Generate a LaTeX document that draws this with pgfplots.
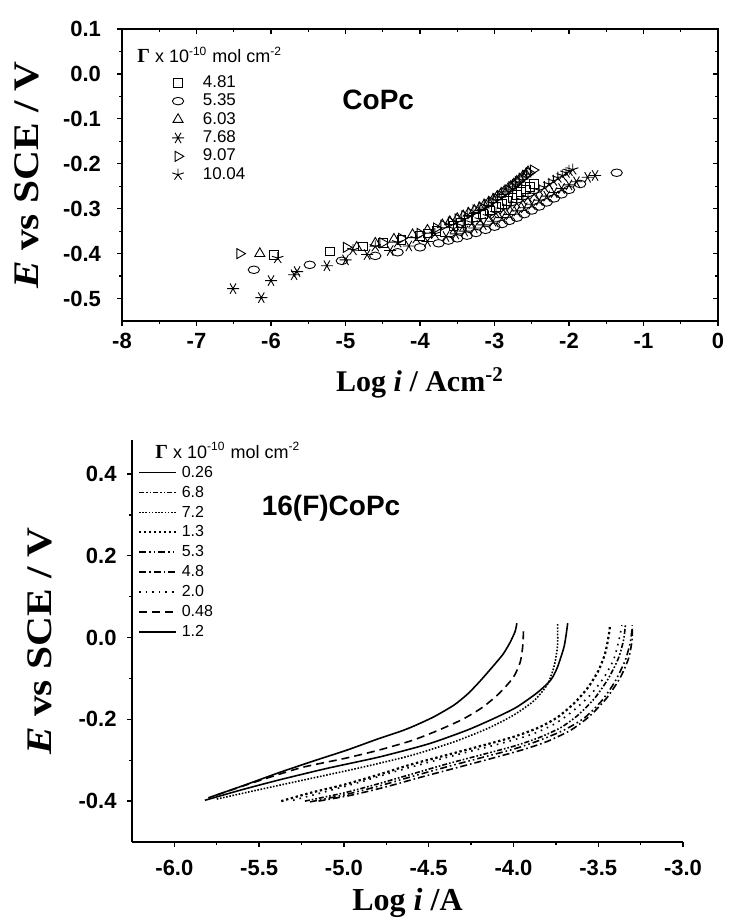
\documentclass[border=0pt]{standalone}
\usepackage{fontspec}
\setmainfont{Liberation Sans}
\newfontfamily\timesfont{Liberation Serif}
\usepackage{pgfplots}
\pgfplotsset{compat=1.18}

\tikzset{
  paneltext/.style={font=\bfseries\fontsize{14}{14}\selectfont, anchor=center},
  gammatitle/.style={anchor=west, inner sep=0pt, font=\fontsize{9}{9}\selectfont},
}

\begin{document}
\begin{tikzpicture}
\useasboundingbox (0pt,0pt) rectangle (368.5pt,461.5pt);

% ---------------- upper panel: CoPc ----------------
\begin{axis}[
  at={(61pt,301pt)}, anchor=south west,
  scale only axis, width=298pt, height=146pt,
  xmin=-8, xmax=0, ymin=-0.55, ymax=0.1,
  xtick={-8,-7,-6,-5,-4,-3,-2,-1,0},
  ytick={-0.5,-0.4,-0.3,-0.2,-0.1,0,0.1},
  minor x tick num=1, minor y tick num=1,
  tick align=outside, xtick pos=lower, ytick pos=left,
  major tick length=2.5pt, minor tick length=1.5pt,
  tick style={black, line width=0.6pt},
  axis line style={line width=0.8pt},
  /pgf/number format/assume math mode=true,
  ticklabel style={font=\bfseries\fontsize{11}{11}\selectfont},
  yticklabel style={xshift=-4.5pt, /pgf/number format/.cd, fixed, fixed zerofill, precision=1},
  xlabel={\timesfont\bfseries Log \textit{i} / Acm\textsuperscript{-2}},
  ylabel={\timesfont\bfseries\textit{E} vs SCE / V},
  xlabel style={at={(axis description cs:0.5,-0.212)}, anchor=center, font=\fontsize{15}{15}\selectfont},
  ylabel style={at={(axis description cs:-0.159,0.5)}, anchor=center, xscale=1.15, font=\fontsize{18}{18}\selectfont},
  legend cell align=left,
  legend image code/.code={%
    \path[draw=none, fill=none] (0pt,-3pt) rectangle (24pt,3pt);
    \draw[mark repeat=2,mark phase=2,#1] plot coordinates {(0pt,0pt)(12pt,0pt)(24pt,0pt)};},
  legend style={at={(axis cs:-7.57,0.0)}, anchor=north west, draw=none, fill=none,
    inner sep=0pt, outer sep=0pt, row sep=0.4pt,
    font=\fontsize{8.5}{8.5}\selectfont,
    nodes={inner sep=0.4pt, text height=6.3pt, text depth=1.7pt}},
  every axis plot/.append style={black, only marks, mark options={line width=0.45pt}},
]
% 4.81
\addplot[mark=square, mark size=2.2pt] coordinates {
(-5.96,-0.403) (-5.21,-0.395) (-4.77,-0.384) (-4.50,-0.377) (-4.25,-0.369)
(-4.00,-0.360) (-3.90,-0.355) (-3.78,-0.350) (-3.55,-0.338) (-3.45,-0.331)
(-3.35,-0.325) (-3.25,-0.318) (-3.15,-0.311) (-3.06,-0.304) (-2.98,-0.297)
(-2.90,-0.290) (-2.83,-0.283) (-2.76,-0.276) (-2.70,-0.270) (-2.64,-0.263)
(-2.58,-0.257) (-2.52,-0.251) (-2.47,-0.245)};
\addlegendentry{4.81}
% 5.35
\addplot[mark=o, mark size=2.1pt, mark options={xscale=1.35, yscale=0.9, line width=0.45pt}] coordinates {
(-6.23,-0.436) (-5.48,-0.425) (-5.05,-0.416) (-4.60,-0.405) (-4.30,-0.397)
(-4.00,-0.386) (-3.75,-0.377) (-3.62,-0.371) (-3.50,-0.366) (-3.37,-0.360)
(-3.25,-0.354) (-3.12,-0.347) (-3.00,-0.340) (-2.90,-0.334) (-2.80,-0.327)
(-2.70,-0.320) (-2.60,-0.312) (-2.50,-0.304) (-2.40,-0.295) (-2.30,-0.286)
(-2.20,-0.277) (-2.10,-0.268) (-2.00,-0.258) (-1.85,-0.245) (-1.36,-0.220)};
\addlegendentry{5.35}
% 6.03
\addplot[mark=triangle, mark size=2.9pt] coordinates {
(-6.15,-0.400) (-4.85,-0.386) (-4.60,-0.377) (-4.35,-0.368) (-4.10,-0.358)
(-3.90,-0.348) (-3.70,-0.336) (-3.60,-0.329) (-3.50,-0.322) (-3.42,-0.316)
(-3.35,-0.310) (-3.27,-0.304) (-3.20,-0.298) (-3.14,-0.292) (-3.08,-0.286)
(-3.02,-0.280) (-2.97,-0.274) (-2.92,-0.268) (-2.87,-0.262) (-2.82,-0.256)
(-2.78,-0.250) (-2.74,-0.245) (-2.70,-0.239) (-2.66,-0.234) (-2.62,-0.228)
(-2.58,-0.223) (-2.55,-0.218)};
\addlegendentry{6.03}
% 7.68
\addplot[mark=asterisk, mark size=3pt, mark options={rotate=90, line width=0.45pt}] coordinates {
(-6.51,-0.478) (-6.13,-0.498) (-6.00,-0.460) (-5.69,-0.447) (-5.65,-0.440)
(-5.25,-0.427) (-5.00,-0.414) (-4.71,-0.402) (-4.40,-0.393) (-4.15,-0.383)
(-3.90,-0.373) (-3.65,-0.362) (-3.52,-0.356) (-3.40,-0.350) (-3.27,-0.343)
(-3.15,-0.336) (-3.02,-0.328) (-2.90,-0.320) (-2.80,-0.313) (-2.70,-0.305)
(-2.60,-0.298) (-2.50,-0.290) (-2.40,-0.281) (-2.30,-0.272) (-2.20,-0.264)
(-2.10,-0.255) (-2.00,-0.247) (-1.90,-0.240) (-1.75,-0.230) (-1.65,-0.226)};
\addlegendentry{7.68}
% 9.07
\addplot[mark=triangle, mark size=2.9pt, mark options={rotate=-90, line width=0.45pt}] coordinates {
(-6.42,-0.400) (-4.99,-0.386) (-4.50,-0.376) (-4.25,-0.366) (-4.00,-0.355)
(-3.78,-0.343) (-3.68,-0.337) (-3.58,-0.330) (-3.49,-0.323) (-3.40,-0.316)
(-3.32,-0.310) (-3.25,-0.303) (-3.17,-0.297) (-3.10,-0.290) (-3.04,-0.284)
(-2.98,-0.277) (-2.92,-0.271) (-2.87,-0.264) (-2.82,-0.258) (-2.77,-0.251)
(-2.72,-0.246) (-2.68,-0.240) (-2.63,-0.233) (-2.58,-0.226) (-2.53,-0.220)
(-2.48,-0.214)};
\addlegendentry{9.07}
% 10.04
\addplot[mark=star, mark size=3pt] coordinates {
(-5.91,-0.410) (-4.90,-0.392) (-4.60,-0.384) (-4.30,-0.375) (-4.05,-0.366)
(-3.80,-0.356) (-3.55,-0.344) (-3.42,-0.338) (-3.30,-0.331) (-3.19,-0.324)
(-3.08,-0.317) (-2.98,-0.310) (-2.88,-0.302) (-2.79,-0.295) (-2.70,-0.288)
(-2.62,-0.281) (-2.55,-0.274) (-2.47,-0.267) (-2.40,-0.259) (-2.33,-0.252)
(-2.27,-0.245) (-2.21,-0.238) (-2.15,-0.231) (-2.09,-0.226) (-2.04,-0.220)
(-2.00,-0.216) (-1.95,-0.213)};
\addlegendentry{10.04}

\node[gammatitle] at (axis cs:-7.80,0.042)
  {{\timesfont\bfseries\fontsize{10}{10}\selectfont Γ} x 10\textsuperscript{-10} mol cm\textsuperscript{-2}};
\node[paneltext] at (axis cs:-4.56,-0.058) {CoPc};
\end{axis}

% inward ticks on the upper and right edges of the box
\begin{axis}[
  at={(61pt,301pt)}, anchor=south west,
  scale only axis, width=298pt, height=146pt,
  xmin=-8, xmax=0, ymin=-0.55, ymax=0.1,
  xtick={-8,-7,-6,-5,-4,-3,-2,-1,0},
  ytick={-0.5,-0.4,-0.3,-0.2,-0.1,0,0.1},
  minor x tick num=1, minor y tick num=1,
  tick align=inside, xtick pos=upper, ytick pos=right,
  major tick length=2.5pt, minor tick length=1.5pt,
  tick style={black, line width=0.6pt},
  axis line style={line width=0.8pt},
  xticklabels={}, yticklabels={},
]
\end{axis}

% ---------------- lower panel: 16(F)CoPc ----------------
\begin{axis}[
  at={(66pt,40.5pt)}, anchor=south west,
  scale only axis, width=275.5pt, height=201pt,
  xmin=-6.25, xmax=-3.0, ymin=-0.5, ymax=0.483,
  axis lines=left, axis line style={-, line width=1pt},
  xtick={-6,-5.5,-5,-4.5,-4,-3.5,-3},
  ytick={-0.4,-0.2,0,0.2,0.4},
  minor x tick num=1, minor y tick num=1,
  tick align=outside,
  major tick length=2.5pt, minor tick length=1.5pt,
  tick style={black, line width=0.7pt},
  clip=false,
  /pgf/number format/assume math mode=true,
  ticklabel style={font=\bfseries\fontsize{11}{11}\selectfont},
  xticklabel style={yshift=-3pt, /pgf/number format/.cd, fixed, fixed zerofill, precision=1},
  yticklabel style={xshift=-1.7pt, /pgf/number format/.cd, fixed, fixed zerofill, precision=1},
  xlabel={\timesfont\bfseries Log \textit{i} /A},
  ylabel={\timesfont\bfseries\textit{E} vs SCE / V},
  xlabel style={at={(axis description cs:0.5,-0.152)}, anchor=center, font=\fontsize{16}{16}\selectfont},
  ylabel style={at={(axis description cs:-0.167,0.5)}, anchor=center, xscale=1.15, font=\fontsize{18}{18}\selectfont},
  legend cell align=left,
  legend image code/.code={%
    \path[draw=none, fill=none] (0pt,-3pt) rectangle (21pt,3pt);
    \draw[#1] (0pt,0pt) -- (18.5pt,0pt);},
  legend style={at={(axis cs:-6.215,0.4247)}, anchor=north west, draw=none, fill=none,
    inner sep=0pt, outer sep=0pt, row sep=1.15pt,
    font=\fontsize{8}{8}\selectfont,
    nodes={inner sep=0.4pt, text height=6.3pt, text depth=1.7pt}},
  every axis plot/.append style={black, line width=0.8pt, smooth, tension=0.4},
]
% 0.26
\addplot[solid] coordinates {
(-5.80,-0.392) (-5.60,-0.363) (-5.38,-0.330) (-5.18,-0.302) (-4.98,-0.275)
(-4.80,-0.248) (-4.67,-0.230) (-4.59,-0.217) (-4.47,-0.194) (-4.35,-0.165)
(-4.27,-0.138) (-4.20,-0.108) (-4.12,-0.070) (-4.06,-0.040) (-4.02,-0.012)
(-3.99,0.015) (-3.98,0.035)};
\addlegendentry{0.26}
% 6.8
\addplot[dash pattern=on 2.5pt off 1pt on 0.8pt off 1pt on 0.8pt off 1pt] coordinates {
(-5.23,-0.400) (-5.00,-0.380) (-4.80,-0.358) (-4.60,-0.334) (-4.40,-0.310)
(-4.20,-0.288) (-4.00,-0.266) (-3.85,-0.245) (-3.72,-0.220) (-3.62,-0.190)
(-3.52,-0.148) (-3.44,-0.100) (-3.38,-0.050) (-3.35,-0.005) (-3.34,0.030)};
\addlegendentry{6.8}
% 7.2
\addplot[dash pattern=on 0.8pt off 0.8pt] coordinates {
(-5.75,-0.395) (-5.50,-0.372) (-5.20,-0.345) (-4.90,-0.318) (-4.60,-0.288)
(-4.35,-0.255) (-4.15,-0.222) (-4.00,-0.190) (-3.88,-0.155) (-3.80,-0.115)
(-3.76,-0.070) (-3.74,-0.020) (-3.74,0.035)};
\addlegendentry{7.2}
% 1.3
\addplot[line width=1.1pt, dash pattern=on 1.2pt off 1.3pt] coordinates {
(-5.37,-0.400) (-5.20,-0.380) (-5.00,-0.360) (-4.80,-0.336) (-4.60,-0.310)
(-4.40,-0.288) (-4.20,-0.266) (-4.00,-0.243) (-3.85,-0.220) (-3.74,-0.195)
(-3.64,-0.160) (-3.56,-0.122) (-3.50,-0.082) (-3.46,-0.040) (-3.44,0.000)
(-3.43,0.030)};
\addlegendentry{1.3}
% 5.3
\addplot[dash pattern=on 3.5pt off 1.5pt on 0.8pt off 1.5pt on 0.8pt off 1.5pt] coordinates {
(-5.20,-0.402) (-5.00,-0.385) (-4.80,-0.364) (-4.60,-0.340) (-4.40,-0.317)
(-4.20,-0.295) (-4.00,-0.273) (-3.85,-0.252) (-3.70,-0.226) (-3.58,-0.196)
(-3.48,-0.155) (-3.40,-0.107) (-3.34,-0.055) (-3.31,-0.010) (-3.30,0.025)};
\addlegendentry{5.3}
% 4.8
\addplot[dash pattern=on 3.5pt off 1.5pt on 0.8pt off 1.5pt] coordinates {
(-5.15,-0.400) (-4.95,-0.385) (-4.75,-0.365) (-4.55,-0.342) (-4.35,-0.320)
(-4.15,-0.298) (-3.95,-0.275) (-3.80,-0.254) (-3.66,-0.226) (-3.55,-0.192)
(-3.45,-0.148) (-3.37,-0.098) (-3.32,-0.050) (-3.30,-0.005) (-3.30,0.030)};
\addlegendentry{4.8}
% 2.0
\addplot[dash pattern=on 0.8pt off 2.5pt] coordinates {
(-5.30,-0.398) (-5.10,-0.376) (-4.90,-0.353) (-4.70,-0.328) (-4.50,-0.305)
(-4.30,-0.283) (-4.10,-0.262) (-3.90,-0.238) (-3.76,-0.212) (-3.65,-0.180)
(-3.55,-0.142) (-3.47,-0.100) (-3.41,-0.055) (-3.38,-0.010) (-3.36,0.030)};
\addlegendentry{2.0}
% 0.48
\addplot[dash pattern=on 4pt off 2.5pt] coordinates {
(-5.75,-0.385) (-5.50,-0.350) (-5.25,-0.318) (-5.00,-0.296) (-4.80,-0.276)
(-4.60,-0.252) (-4.45,-0.228) (-4.30,-0.200) (-4.18,-0.170) (-4.08,-0.135)
(-4.00,-0.097) (-3.96,-0.060) (-3.945,-0.020) (-3.94,0.026)};
\addlegendentry{0.48}
% 1.2
\addplot[solid] coordinates {
(-5.82,-0.398) (-5.60,-0.372) (-5.38,-0.348) (-5.10,-0.320) (-4.79,-0.292)
(-4.50,-0.260) (-4.27,-0.226) (-4.10,-0.195) (-3.98,-0.170) (-3.86,-0.135)
(-3.78,-0.104) (-3.74,-0.072) (-3.70,-0.020) (-3.68,0.035)};
\addlegendentry{1.2}

\node[gammatitle] at (axis cs:-6.114,0.458)
  {{\timesfont\bfseries\fontsize{10}{10}\selectfont Γ} x 10\textsuperscript{-10} mol cm\textsuperscript{-2}};
\node[paneltext] at (axis cs:-5.076,0.317) {16(F)CoPc};
\end{axis}
\end{tikzpicture}
\end{document}
